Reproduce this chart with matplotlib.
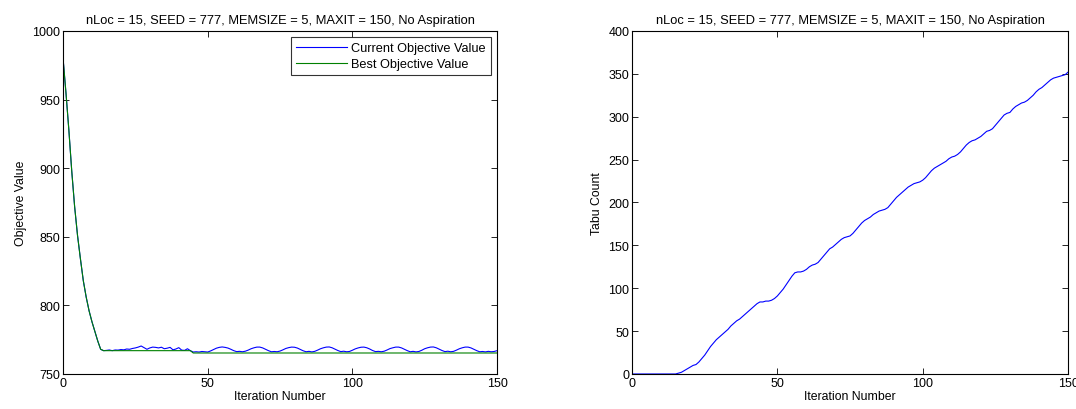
import numpy as np
import matplotlib.pyplot as plt

plt.rcParams['font.family'] = ['Liberation Sans', 'DejaVu Sans']
plt.rcParams['font.size'] = 9

title = "nLoc = 15, SEED = 777, MEMSIZE = 5, MAXIT = 150, No Aspiration"

iterations = list(range(0, 151))

current_obj = [
    980, 955, 928, 898, 872, 851, 834, 818, 806, 796, 788, 781, 774, 768, 767,
    767.2, 767.5, 767.0, 767.5, 767.4, 767.8, 767.6, 768.2, 768.0, 768.6,
    769.0, 769.6, 770.4, 769.2, 768.0, 769.0, 769.6, 769.4, 769.0, 769.5,
    768.4, 768.8, 769.4, 767.6, 768.2, 769.2, 767.4, 767.2, 768.4, 767.0,
    766.0, 766.2, 766.0, 766.4, 766.2, 766.0, 766.8, 767.8, 768.8, 769.4,
    769.7, 769.4, 768.9, 768.0, 767.0, 766.3, 766.5, 766.2, 766.6, 767.4,
    768.4, 769.1, 769.6, 769.6, 769.0, 768.0, 767.0, 766.2, 766.4, 766.2,
    766.7, 767.6, 768.6, 769.2, 769.6, 769.5, 768.9, 767.9, 766.9, 766.2,
    766.5, 766.1, 766.5, 767.4, 768.4, 769.1, 769.6, 769.7, 769.1, 768.1,
    767.1, 766.3, 766.6, 766.2, 766.4, 767.3, 768.3, 769.0, 769.5, 769.6,
    769.1, 768.2, 767.1, 766.3, 766.5, 766.2, 766.6, 767.5, 768.5, 769.1,
    769.6, 769.6, 769.0, 768.0, 767.0, 766.2, 766.5, 766.1, 766.4, 767.3,
    768.4, 769.1, 769.6, 769.7, 769.1, 768.1, 767.1, 766.3, 766.6, 766.2,
    766.5, 767.4, 768.4, 769.1, 769.6, 769.6, 769.0, 768.0, 767.0, 766.2,
    766.4, 766.1, 766.5, 766.2, 766.4, 767.0,
]

best_obj = [
    980, 955, 928, 898, 872, 851, 834, 818, 806, 796, 788, 781, 774, 768, 767,
    767, 767, 767, 767, 767, 767, 767, 767, 767, 767,
    767, 767, 767, 767, 767, 767, 767, 767, 767, 767,
    767, 767, 767, 767, 767, 767, 767, 767, 767, 767,
    765.3, 765.3, 765.3, 765.3, 765.3, 765.3, 765.3, 765.3, 765.3, 765.3,
    765.3, 765.3, 765.3, 765.3, 765.3, 765.3, 765.3, 765.3, 765.3, 765.3,
    765.3, 765.3, 765.3, 765.3, 765.3, 765.3, 765.3, 765.3, 765.3, 765.3,
    765.3, 765.3, 765.3, 765.3, 765.3, 765.3, 765.3, 765.3, 765.3, 765.3,
    765.3, 765.3, 765.3, 765.3, 765.3, 765.3, 765.3, 765.3, 765.3, 765.3,
    765.3, 765.3, 765.3, 765.3, 765.3, 765.3, 765.3, 765.3, 765.3, 765.3,
    765.3, 765.3, 765.3, 765.3, 765.3, 765.3, 765.3, 765.3, 765.3, 765.3,
    765.3, 765.3, 765.3, 765.3, 765.3, 765.3, 765.3, 765.3, 765.3, 765.3,
    765.3, 765.3, 765.3, 765.3, 765.3, 765.3, 765.3, 765.3, 765.3, 765.3,
    765.3, 765.3, 765.3, 765.3, 765.3, 765.3, 765.3, 765.3, 765.3, 765.3,
    765.3, 765.3, 765.3, 765.3, 765.3, 765.3,
]

tabu_count = [
    0, 0, 0, 0, 0, 0, 0, 0, 0, 0, 0, 0, 0, 0, 0, 0,
    1, 2, 4, 6, 8, 10, 11, 14, 18, 22, 27, 32, 36, 40,
    43, 46, 49, 52, 56, 59, 62, 64, 67, 70, 73, 76, 79, 82, 84,
    84, 85, 85, 86, 88, 91, 95, 99, 104, 109, 114, 118, 119, 119, 120,
    122, 125, 127, 128, 130, 134, 138, 142, 146, 148, 151, 154, 157, 159, 160,
    161, 164, 168, 172, 176, 179, 181, 183, 186, 188, 190, 191, 192, 194, 198,
    202, 206, 209, 212, 215, 218, 220, 222, 223, 224, 226, 229, 233, 237, 240,
    242, 244, 246, 248, 251, 253, 254, 256, 259, 263, 267, 270, 272, 273, 275,
    277, 280, 283, 284, 286, 290, 294, 298, 302, 304, 305, 309, 312, 314, 316,
    317, 319, 322, 325, 329, 332, 334, 337, 340, 343, 345, 346, 347, 348, 349, 352,
]

fig = plt.figure(figsize=(10.76, 4.10), dpi=100)
ax1 = fig.add_axes([0.0586, 0.0854, 0.4033, 0.8366])
ax2 = fig.add_axes([0.5874, 0.0854, 0.4052, 0.8366])

# panel izquierdo: valor objetivo
ax1.plot(iterations, current_obj, color=(0, 0, 1), lw=0.8, label="Current Objective Value")
ax1.plot(iterations, best_obj, color=(0, 0.5, 0), lw=0.8, label="Best Objective Value")
ax1.set_xlim(0, 150)
ax1.set_ylim(750, 1000)
ax1.set_xticks([0, 50, 100, 150])
ax1.set_yticks([750, 800, 850, 900, 950, 1000])
ax1.set_xlabel("Iteration Number", labelpad=1, fontsize=8.8)
ax1.set_ylabel("Objective Value", labelpad=4, fontsize=8.8)
ax1.set_title(title, fontsize=9.3, pad=6)
leg = ax1.legend(loc="upper right", fancybox=False, edgecolor="black",
                 handlelength=4.0, handletextpad=0.3, borderpad=0.4,
                 labelspacing=0.3, borderaxespad=0.5, fontsize=9.2)
leg.get_frame().set_linewidth(0.8)

# panel derecho: tabu count
ax2.plot(iterations, tabu_count, color=(0, 0, 1), lw=0.8)
ax2.set_xlim(0, 150)
ax2.set_ylim(0, 400)
ax2.set_xticks([0, 50, 100, 150])
ax2.set_yticks(range(0, 401, 50))
ax2.set_xlabel("Iteration Number", labelpad=1, fontsize=8.8)
ax2.set_ylabel("Tabu Count", labelpad=4, fontsize=8.8)
ax2.set_title(title, fontsize=9.3, pad=6)

for ax in (ax1, ax2):
    ax.tick_params(direction="in", top=True, right=True, length=4, width=0.6, labelsize=9, pad=2)
    for s in ax.spines.values():
        s.set_linewidth(0.8)

fig.savefig("out.png", dpi=100)
